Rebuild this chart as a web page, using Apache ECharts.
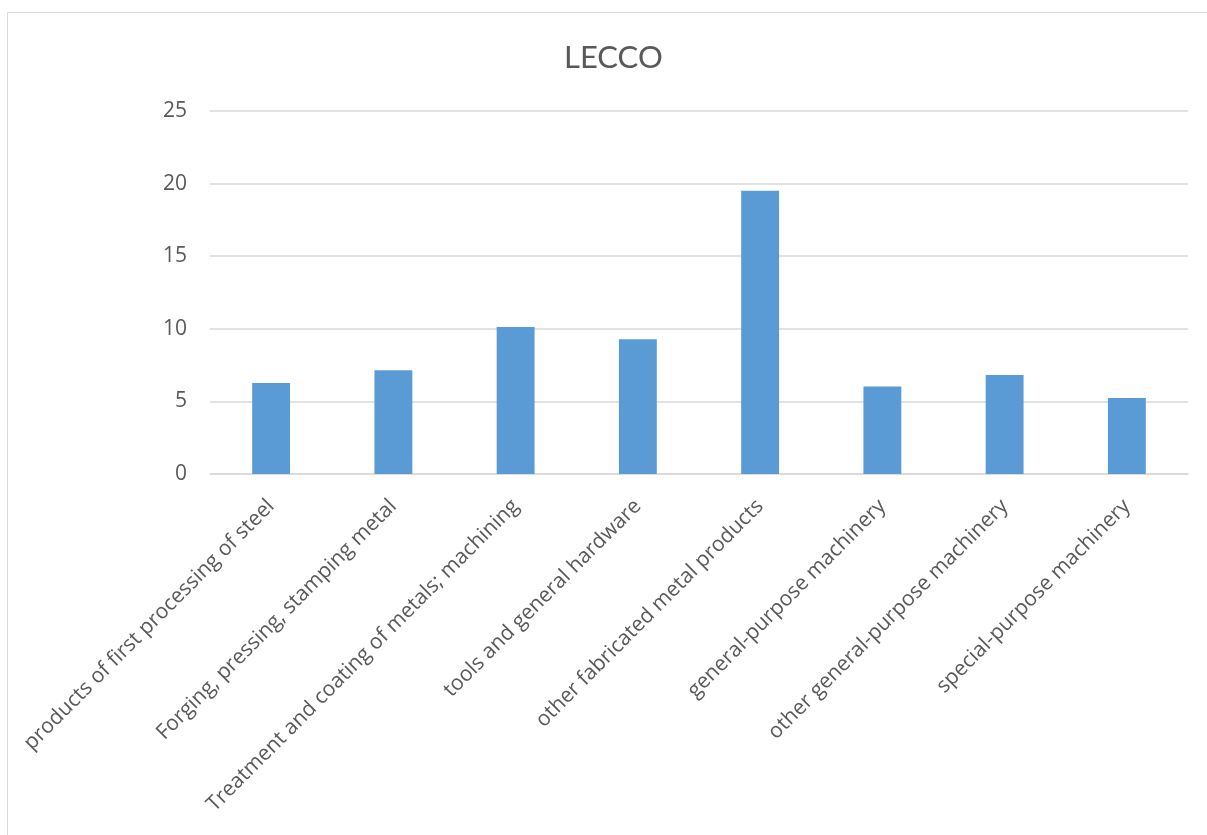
<!DOCTYPE html>
<html>
<head>
<meta charset="utf-8">
<script src="https://cdn.jsdelivr.net/npm/echarts@6/dist/echarts.min.js"></script>
<style>
  html, body { margin: 0; padding: 0; background: #fff; }
  #chart { width: 1207px; height: 835px; }
</style>
</head>
<body>
<div id="chart"></div>
<script>
// Sector categories along the x axis
const categories = [
  'products of first processing of steel',
  'Forging, pressing, stamping metal',
  'Treatment and coating of metals; machining',
  'tools and general hardware',
  'other fabricated metal products',
  'general-purpose machinery',
  'other general-purpose machinery',
  'special-purpose machinery'
];

// Values per sector
const values = [6.26, 7.15, 10.13, 9.28, 19.5, 6.02, 6.81, 5.23];

// Value axis range
const yMin = 0;
const yMax = 25;
const yStep = 5;

const chart = echarts.init(document.getElementById('chart'), null, { renderer: 'canvas' });

const textColor = '#595959';
const fontFamily = '"Open Sans", "Noto Sans", sans-serif';

chart.setOption({
  backgroundColor: '#ffffff',
  animation: false,
  title: {
    text: 'LECCO',
    left: 559,
    top: 37,
    textStyle: {
      color: textColor,
      fontFamily: 'Lato, "Open Sans", sans-serif',
      fontWeight: 'normal',
      fontSize: 31
    }
  },
  graphic: [{
    type: 'rect',
    shape: { x: 7.5, y: 12.5, width: 1300, height: 900 },
    style: { fill: 'none', stroke: '#d9d9d9', lineWidth: 1 },
    silent: true,
    z: -1
  }],
  grid: {
    left: 210,
    right: 19,
    top: 111,
    bottom: 361,
    containLabel: false
  },
  xAxis: {
    type: 'category',
    data: categories,
    axisLine: { show: true, lineStyle: { color: '#d9d9d9', width: 1.5 } },
    axisTick: { show: false },
    axisLabel: {
      interval: 0,
      rotate: 45,
      margin: 29,
      color: textColor,
      fontFamily: fontFamily,
      fontSize: 21
    }
  },
  yAxis: {
    type: 'value',
    min: yMin,
    max: yMax,
    interval: yStep,
    axisLine: { show: false },
    axisTick: { show: false },
    splitLine: { show: true, lineStyle: { color: '#d9d9d9', width: 1.5 } },
    axisLabel: {
      margin: 23,
      color: textColor,
      fontFamily: fontFamily,
      fontSize: 21
    }
  },
  series: [{
    type: 'bar',
    data: values,
    barWidth: '31%',
    itemStyle: { color: '#5b9bd5' }
  }]
});
</script>
</body>
</html>
